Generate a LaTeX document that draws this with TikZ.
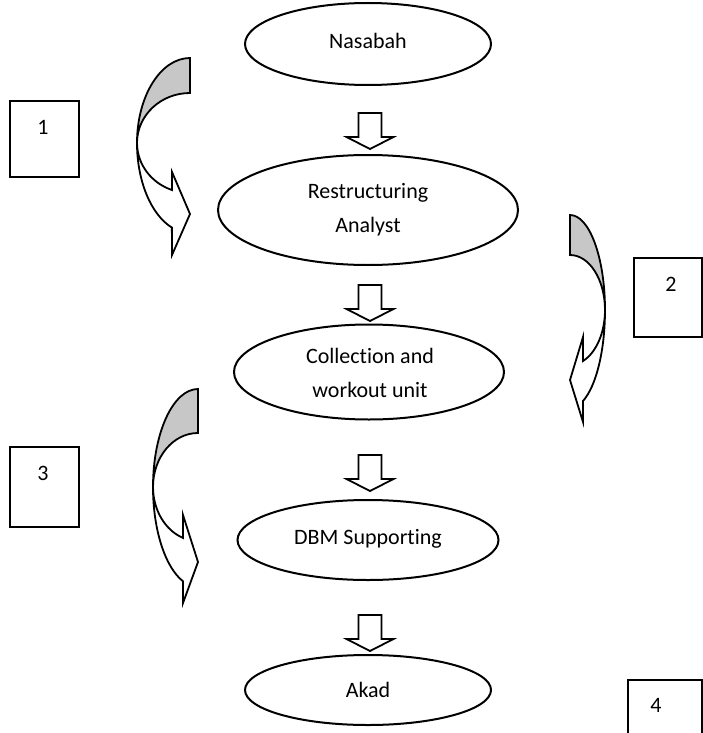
\documentclass[tikz,border=0pt]{standalone}
\usepackage{fontspec}
\setmainfont[Ligatures={NoCommon}]{Carlito}
\usetikzlibrary{shapes.geometric}
\begin{document}
\begin{tikzpicture}[x=1pt,y=-1pt,line join=miter,
  ell/.style={draw,ellipse,line width=2pt,inner sep=0pt},
  elltxt/.style={align=center,inner sep=0pt,font=\fontsize{22}{34}\selectfont},
  numbox/.style={draw,rectangle,line width=2pt,inner sep=0pt},
  numtxt/.style={font=\fontsize{22}{26}\selectfont,inner sep=0pt},
  blockarrow/.style={draw,fill=white,line width=1.8pt},
  curvfront/.style={draw,fill=white,line width=1.8pt},
  curvback/.style={draw,fill=black!22,line width=1.8pt},
  blockdown/.pic={\draw[blockarrow] (-11.5,0) -- (11.5,0) -- (11.5,24) -- (23.5,24) -- (0,36) -- (-23.5,24) -- (-11.5,24) -- cycle;}]
\useasboundingbox (0,0) rectangle (703,733);

% ellipses
\node[ell,minimum width=246pt,minimum height=82pt] (nas) at (368,44) {};
\node[elltxt] (nast) at (368,41) {Nasabah};
\node[ell,minimum width=300pt,minimum height=110pt] (ra) at (368,210) {};
\node[elltxt] (rat) at (368,210) {Restructuring\\Analyst};
\node[ell,minimum width=270pt,minimum height=95pt] (cw) at (369,372) {};
\node[elltxt] (cwt) at (370,373) {Collection and\\workout unit};
\node[ell,minimum width=261pt,minimum height=80pt] (dbm) at (368,540) {};
\node[elltxt] (dbmt) at (368,539) {DBM Supporting};
\node[ell,minimum width=246pt,minimum height=70pt] (akad) at (368,690) {};
\node[elltxt] (akadt) at (368,690) {Akad};

% block arrows
\coordinate (a1) at (370,113);
\coordinate (a2) at (370,285);
\coordinate (a3) at (370,455);
\coordinate (a4) at (370,615);
\pic at (a1) {blockdown};
\pic at (a2) {blockdown};
\pic at (a3) {blockdown};
\pic at (a4) {blockdown};

% numbered boxes
\node[numbox,minimum width=69pt,minimum height=76pt] (b1) at (44.5,139) {};
\node[numtxt] (t1) at (43,127) {1};
\node[numbox,minimum width=68pt,minimum height=79pt] (b2) at (668,297.5) {};
\node[numtxt] (t2) at (671,284) {2};
\node[numbox,minimum width=69pt,minimum height=80pt] (b3) at (44.5,487) {};
\node[numtxt] (t3) at (43,473) {3};
\node[numbox,minimum width=74pt,minimum height=60pt] (b4) at (665,710) {};
\node[numtxt] (t4) at (656,705) {4};

% curved arrow 1 (left, pointing right)
\draw[curvfront] (137,143) arc[start angle=180,end angle=110,x radius=53,y radius=90]
  -- (172,255) -- (190,214) -- (172,172) -- (171.9,190)
  arc[start angle=110,end angle=180,x radius=53,y radius=50] -- cycle;
\draw[curvback] (190,58) arc[start angle=270,end angle=180,x radius=53,y radius=85]
  arc[start angle=180,end angle=270,x radius=53,y radius=50] -- cycle;

% curved arrow 2 (right, pointing left)
\draw[curvfront] (605,310) arc[start angle=0,end angle=68.2,x radius=35,y radius=98]
  -- (583,422) -- (570,380) -- (583,337) -- (583,361)
  arc[start angle=68.2,end angle=0,x radius=35,y radius=55] -- cycle;
\draw[curvback] (570,215) arc[start angle=270,end angle=360,x radius=35,y radius=95]
  arc[start angle=360,end angle=270,x radius=35,y radius=55] -- cycle;

% curved arrow 3 (left, pointing right)
\draw[curvfront] (153,487) arc[start angle=180,end angle=109.5,x radius=45,y radius=100]
  -- (183,603) -- (198,562) -- (183,515) -- (183,537.9)
  arc[start angle=109.5,end angle=180,x radius=45,y radius=54] -- cycle;
\draw[curvback] (198,389) arc[start angle=270,end angle=180,x radius=45,y radius=98]
  arc[start angle=180,end angle=270,x radius=45,y radius=54] -- cycle;
\end{tikzpicture}
\end{document}
